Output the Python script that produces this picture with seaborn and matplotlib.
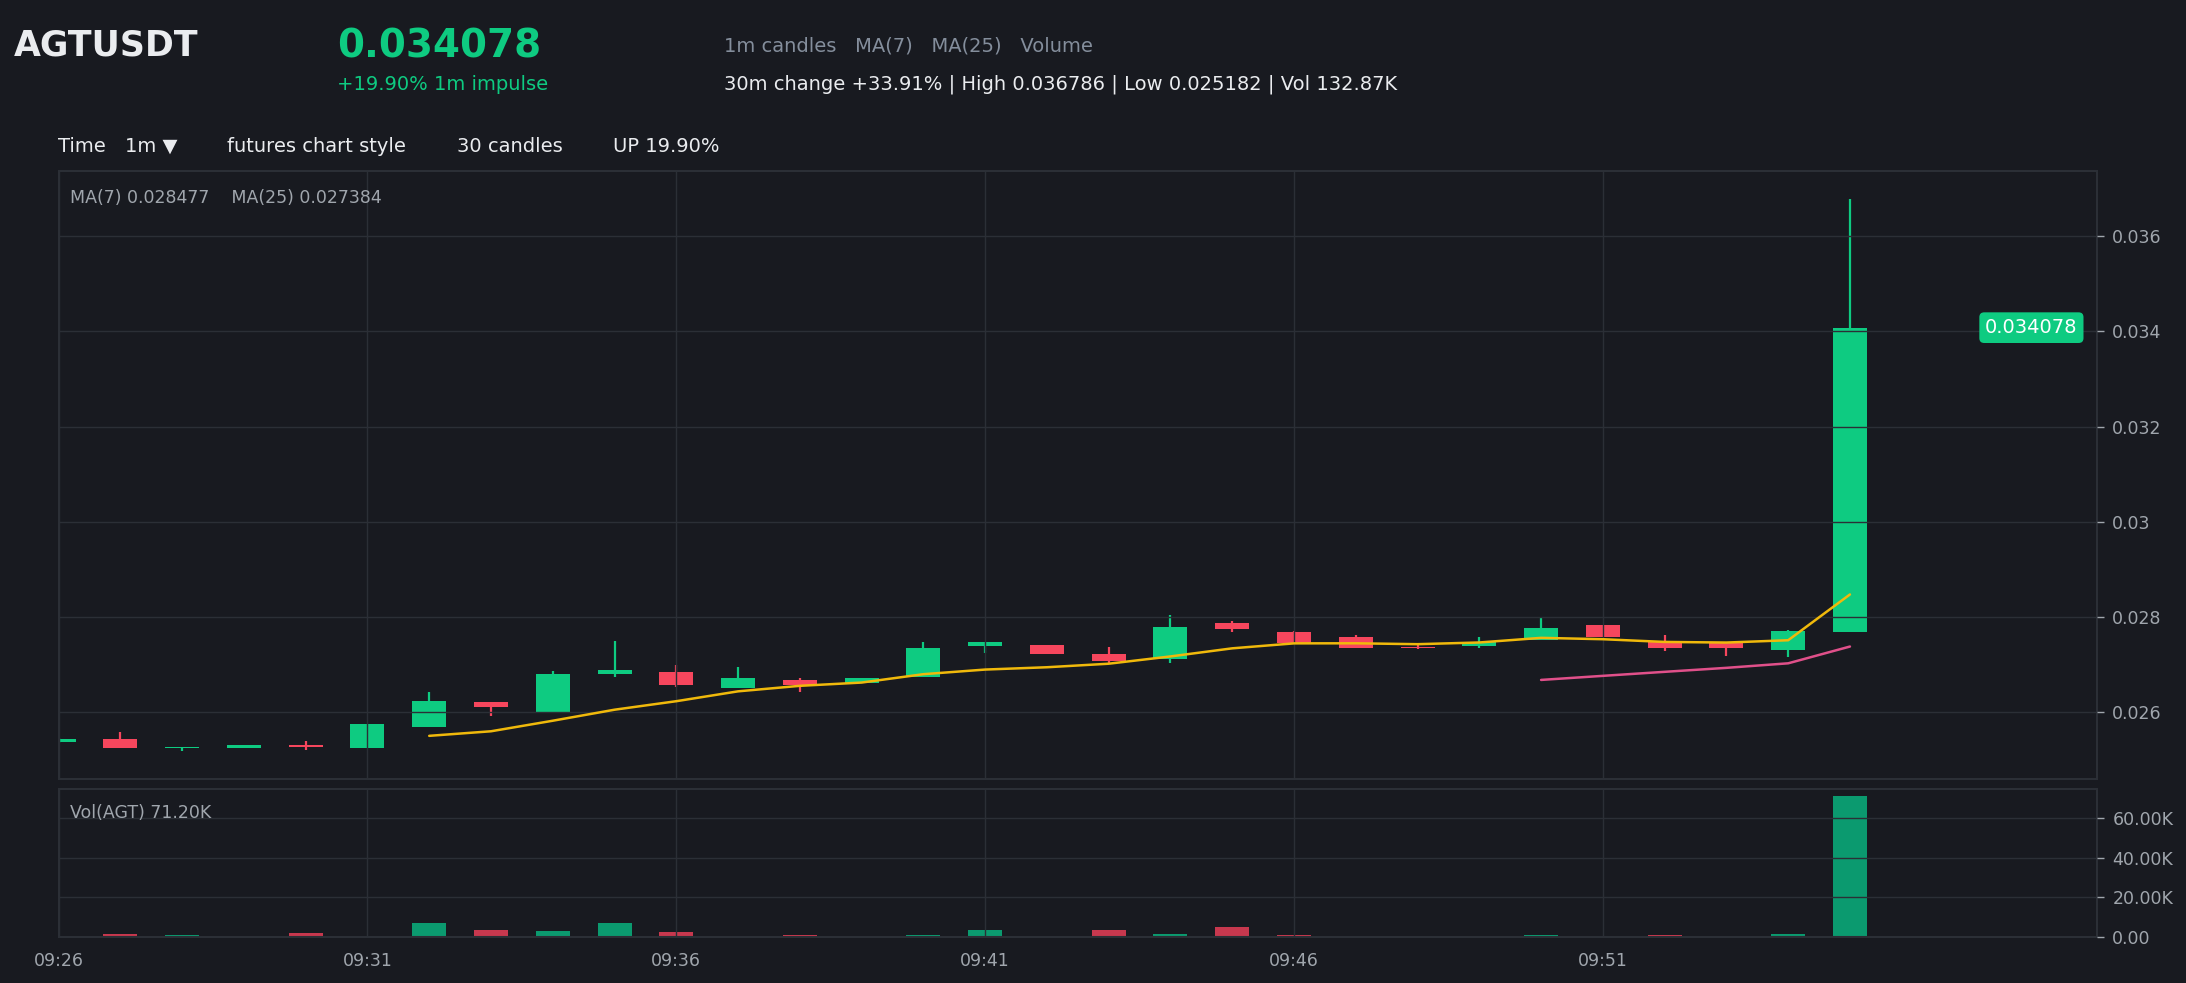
import numpy as np
import pandas as pd
import matplotlib
matplotlib.use("Agg")
import matplotlib.pyplot as plt
import seaborn as sns

# 1m candles, 09:26 .. 09:55
times = ["09:26", "09:27", "09:28", "09:29", "09:30", "09:31", "09:32", "09:33", "09:34", "09:35",
         "09:36", "09:37", "09:38", "09:39", "09:40", "09:41", "09:42", "09:43", "09:44", "09:45",
         "09:46", "09:47", "09:48", "09:49", "09:50", "09:51", "09:52", "09:53", "09:54", "09:55"]
opens = [0.02537, 0.02544, 0.02525, 0.02526, 0.02532, 0.02525, 0.02570, 0.02622, 0.02601, 0.02681,
         0.02685, 0.02651, 0.02668, 0.02661, 0.02675, 0.02740, 0.02741, 0.02722, 0.02713, 0.02787,
         0.02769, 0.02758, 0.02738, 0.02740, 0.02752, 0.02783, 0.02751, 0.02746, 0.02732, 0.02769]
highs = [0.02546, 0.02559, 0.02528, 0.02532, 0.02539, 0.02576, 0.02643, 0.02622, 0.02687, 0.02750,
         0.02699, 0.02695, 0.02672, 0.02672, 0.02748, 0.02748, 0.02741, 0.02737, 0.02804, 0.02793,
         0.02772, 0.02763, 0.02744, 0.02759, 0.02798, 0.02783, 0.02763, 0.02746, 0.02774, 0.036786]
lows = [0.02536, 0.02525, 0.025182, 0.02526, 0.02522, 0.02525, 0.02570, 0.02593, 0.02601, 0.02674,
        0.02654, 0.02651, 0.02642, 0.02661, 0.02675, 0.02725, 0.02723, 0.02701, 0.02704, 0.02769,
        0.02745, 0.02736, 0.02734, 0.02736, 0.02752, 0.02759, 0.02729, 0.02719, 0.02716, 0.02769]
closes = [0.02545, 0.02525, 0.02527, 0.02532, 0.02527, 0.02576, 0.02624, 0.02612, 0.02680, 0.02689,
          0.02657, 0.02672, 0.02657, 0.02672, 0.02735, 0.02748, 0.02723, 0.02709, 0.02779, 0.02776,
          0.02745, 0.02736, 0.02735, 0.02748, 0.02777, 0.02759, 0.02736, 0.02736, 0.02770, 0.034078]
volumes_k = [0.3, 1.2, 0.7, 0.2, 1.7, 0.2, 7.1, 3.6, 3.1, 7.1,
             2.6, 0.2, 1.0, 0.1, 1.0, 3.6, 0.2, 3.6, 1.5, 4.8,
             0.7, 0.1, 0.1, 0.1, 0.7, 0.1, 0.7, 0.1, 1.5, 71.2]

BG = "#181a20"
GRID = "#2b2f36"
UP = "#0ecb81"
DOWN = "#f6465d"
VOL_UP = "#0b9a6f"
VOL_DOWN = "#c7384e"
MUTED = "#a0a6ad"
WHITE = "#eaecef"

df = pd.DataFrame({"t": times, "open": opens, "high": highs, "low": lows,
                   "close": closes, "vol": np.array(volumes_k) * 1000})
df["i"] = np.arange(len(df))
df["dir"] = np.where(df["close"] >= df["open"], "up", "down")
df["ma7"] = df["close"].rolling(7).mean()
df["ma25"] = df["close"].rolling(25).mean()

sns.set_theme(style="dark", rc={"figure.facecolor": BG, "axes.facecolor": BG,
                                "axes.edgecolor": GRID, "grid.color": GRID,
                                "text.color": WHITE, "xtick.color": MUTED, "ytick.color": MUTED})
plt.rcParams["font.family"] = ["DejaVu Sans"]

fig = plt.figure(figsize=(21.86, 9.83), dpi=100)
ax = fig.add_axes([0.0268, 0.2075, 0.9325, 0.6185])
axv = fig.add_axes([0.0268, 0.047, 0.9325, 0.150])

# candles
width = 0.55
colors = np.where(df["dir"] == "up", UP, DOWN)
body_lo = df[["open", "close"]].min(axis=1)
body_h = (df["close"] - df["open"]).abs().clip(lower=0.00003)
ax.vlines(df["i"], df["low"], df["high"], colors=colors, linewidth=1.6, zorder=2)
ax.bar(df["i"], body_h, bottom=body_lo, width=width, color=colors, linewidth=0, zorder=2)

# moving averages
sns.lineplot(data=df.dropna(subset=["ma7"]), x="i", y="ma7", ax=ax, color="#f0b90b",
             linewidth=1.8, zorder=3)
sns.lineplot(data=df.dropna(subset=["ma25"]), x="i", y="ma25", ax=ax, color="#e0508a",
             linewidth=1.8, zorder=3)

lo, hi = df["low"].min(), df["high"].max()
pad = (hi - lo) * 0.05
ax.set_xlim(0, 33)
ax.set_ylim(lo - pad, hi + pad)
ax.set_yticks([0.026, 0.028, 0.03, 0.032, 0.034, 0.036])
ax.set_yticklabels(["0.026", "0.028", "0.03", "0.032", "0.034", "0.036"])
ax.set_xticks(df["i"][::5])
ax.yaxis.tick_right()
ax.tick_params(axis="y", length=5, width=1, color=MUTED, labelsize=12.5, pad=6)
ax.tick_params(axis="x", length=5, width=1, color=MUTED, labelbottom=False)
ax.grid(True, color=GRID, linewidth=1)
ax.set_axisbelow(False)
ax.set_xlabel("")
ax.set_ylabel("")
for s in ax.spines.values():
    s.set_color(GRID)
    s.set_linewidth(1.5)

last = df["close"].iloc[-1]
ax.text(0.9905, last, f"{last:.6f}", transform=ax.get_yaxis_transform(), ha="right", va="center",
        color="white", fontsize=14,
        bbox=dict(boxstyle="round,pad=0.3,rounding_size=0.25", facecolor=UP, edgecolor="none"))
ax.text(0.0056, 0.955, f"MA(7) {df['ma7'].iloc[-1]:.6f}    MA(25) {df['ma25'].iloc[-1]:.6f}",
        transform=ax.transAxes, ha="left", va="center", color=MUTED, fontsize=12.5)

# volume
sns.barplot(data=df, x="i", y="vol", hue="dir", palette={"up": VOL_UP, "down": VOL_DOWN},
            native_scale=True, width=width, dodge=False, saturation=1, legend=False,
            linewidth=0, ax=axv)
axv.set_xlim(0, 33)
axv.set_ylim(0, df["vol"].max() * 1.05)
axv.set_yticks([0, 20000, 40000, 60000])
axv.set_yticklabels(["0.00", "20.00K", "40.00K", "60.00K"])
axv.set_xticks(df["i"][::5])
axv.set_xticklabels(df["t"][::5])
axv.yaxis.tick_right()
axv.tick_params(axis="y", length=5, width=1, color=MUTED, labelsize=12.5, pad=6)
axv.tick_params(axis="x", length=5, width=1, color=MUTED, labelsize=12.5, pad=6)
axv.grid(True, color=GRID, linewidth=1)
axv.set_axisbelow(False)
axv.set_xlabel("")
axv.set_ylabel("")
for s in axv.spines.values():
    s.set_color(GRID)
    s.set_linewidth(1.5)
axv.text(0.0056, 0.84, f"Vol(AGT) {df['vol'].iloc[-1] / 1000:.2f}K", transform=axv.transAxes,
         ha="left", va="center", color=MUTED, fontsize=12.5)

# header
fig.text(14 / 2186, 1 - 46 / 983, "AGTUSDT", fontsize=25, fontweight="bold", color=WHITE,
         ha="left", va="center")
fig.text(337 / 2186, 1 - 46 / 983, f"{last:.6f}", fontsize=28, fontweight="bold", color=UP,
         ha="left", va="center")
fig.text(337 / 2186, 1 - 84 / 983, "+19.90% 1m impulse", fontsize=14, color=UP,
         ha="left", va="center")
fig.text(724 / 2186, 1 - 46 / 983, "1m candles   MA(7)   MA(25)   Volume", fontsize=14,
         color="#848e9c", ha="left", va="center")
fig.text(724 / 2186, 1 - 84 / 983,
         "30m change +33.91% | High 0.036786 | Low 0.025182 | Vol 132.87K", fontsize=14,
         color=WHITE, ha="left", va="center")
toolbar = [(58.5, "Time"), (125, "1m ▼"), (227, "futures chart style"),
           (457, "30 candles"), (613, "UP 19.90%")]
for x, label in toolbar:
    fig.text(x / 2186, 1 - 146 / 983, label, fontsize=14, color=WHITE, ha="left", va="center")

fig.savefig("out.png", dpi=100, facecolor=BG)
